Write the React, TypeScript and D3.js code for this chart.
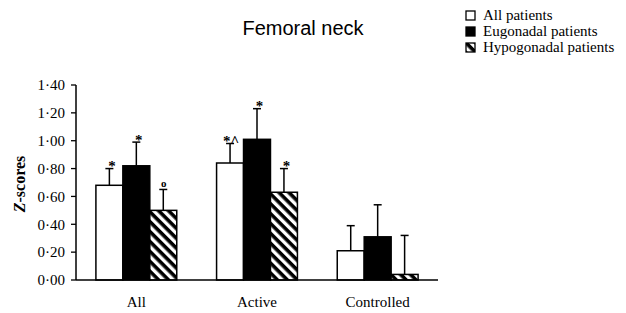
import { useEffect, useRef } from 'react';
import * as d3 from 'd3';

const groups = ['All', 'Active', 'Controlled'];
const seriesNames = ['All patients', 'Eugonadal patients', 'Hypogonadal patients'];
// mean Z-scores per group, one value per series
const allMeans = [0.68, 0.82, 0.5];
const activeMeans = [0.84, 1.01, 0.63];
const controlledMeans = [0.21, 0.31, 0.04];
// upward error bars (SEM)
const allErr = [0.12, 0.17, 0.15];
const activeErr = [0.14, 0.22, 0.17];
const controlledErr = [0.18, 0.23, 0.28];
// significance marks
const allMarks = ['*', '*', 'o'];
const activeMarks = ['*^', '*', '*'];
const controlledMarks = ['', '', ''];
const yTicks = [0, 0.2, 0.4, 0.6, 0.8, 1.0, 1.2, 1.4];

const SERIF = '"Liberation Serif", "Times New Roman", serif';
const SANS = '"Liberation Sans", Arial, sans-serif';

const App = () => {
  const ref = useRef<SVGSVGElement>(null);

  useEffect(() => {
    if (!ref.current) return;
    const svg = d3.select(ref.current);
    svg.selectAll('*').remove();

    const width = 626;
    const height = 313;
    const left = 76;
    const right = 438;
    const top = 85;
    const bottom = 280;

    const means = [allMeans, activeMeans, controlledMeans];
    const errs = [allErr, activeErr, controlledErr];
    const marks = [allMarks, activeMarks, controlledMarks];

    const x0 = d3.scaleBand<string>()
      .domain(groups)
      .range([left, right])
      .paddingInner(0.33)
      .paddingOuter(0.165);

    const x1 = d3.scaleBand<string>()
      .domain(seriesNames)
      .range([0, x0.bandwidth()]);

    const y = d3.scaleLinear().domain([0, 1.4]).range([bottom, top]);

    svg.attr('width', width).attr('height', height);

    const defs = svg.append('defs');
    const pat = defs.append('pattern')
      .attr('id', 'hatch')
      .attr('patternUnits', 'userSpaceOnUse')
      .attr('width', 7)
      .attr('height', 7)
      .attr('patternTransform', 'rotate(45)');
    pat.append('rect').attr('width', 7).attr('height', 7).attr('fill', '#fff');
    pat.append('rect').attr('width', 7).attr('height', 3.6).attr('fill', '#000');

    const fills = ['#fff', '#000', 'url(#hatch)'];

    // title
    svg.append('text')
      .attr('x', 303)
      .attr('y', 35)
      .attr('text-anchor', 'middle')
      .style('font-family', SANS)
      .style('font-size', '20px')
      .text('Femoral neck');

    // legend
    const leg = svg.append('g');
    seriesNames.forEach((name, i) => {
      const by = 20 + i * 16;
      leg.append('rect')
        .attr('x', 466)
        .attr('y', by - 9)
        .attr('width', 9)
        .attr('height', 9)
        .attr('fill', fills[i])
        .attr('stroke', '#000')
        .attr('stroke-width', 1.3);
      leg.append('text')
        .attr('x', 483)
        .attr('y', by)
        .style('font-family', SERIF)
        .style('font-size', '15px')
        .text(name);
    });

    // bars
    groups.forEach((g, gi) => {
      const gx = x0(g)!;
      seriesNames.forEach((s, si) => {
        const bx = gx + x1(s)!;
        const bw = x1.bandwidth();
        const v = means[gi][si];
        const cx = bx + bw / 2;
        const capY = y(v + errs[gi][si]);

        // error bar
        svg.append('line')
          .attr('x1', cx).attr('x2', cx)
          .attr('y1', y(v)).attr('y2', capY)
          .attr('stroke', '#000').attr('stroke-width', 1.5);
        svg.append('line')
          .attr('x1', cx - 4).attr('x2', cx + 4)
          .attr('y1', capY).attr('y2', capY)
          .attr('stroke', '#000').attr('stroke-width', 1.5);

        svg.append('rect')
          .attr('x', bx)
          .attr('y', y(v))
          .attr('width', bw)
          .attr('height', bottom - y(v))
          .attr('fill', fills[si])
          .attr('stroke', '#000')
          .attr('stroke-width', 1.5);

        const m = marks[gi][si];
        if (m) {
          const isCircle = m === 'o';
          svg.append('text')
            .attr('x', cx + (m.length > 1 ? 1 : isCircle ? 0.5 : 2.5))
            .attr('y', isCircle ? capY - 2 : capY + 2.5)
            .attr('text-anchor', 'middle')
            .style('font-family', SERIF)
            .style('font-weight', 'bold')
            .style('font-size', isCircle ? '11px' : '15px')
            .text(m);
        }
      });
    });

    // axes
    svg.append('line')
      .attr('x1', left).attr('x2', right)
      .attr('y1', bottom).attr('y2', bottom)
      .attr('stroke', '#000').attr('stroke-width', 1.5);
    svg.append('line')
      .attr('x1', left).attr('x2', left)
      .attr('y1', top).attr('y2', bottom)
      .attr('stroke', '#000').attr('stroke-width', 1.5);

    yTicks.forEach((t) => {
      svg.append('line')
        .attr('x1', left - 5).attr('x2', left)
        .attr('y1', y(t)).attr('y2', y(t))
        .attr('stroke', '#000').attr('stroke-width', 1.3);
      svg.append('text')
        .attr('x', left - 11)
        .attr('y', y(t))
        .attr('dy', '0.35em')
        .attr('text-anchor', 'end')
        .style('font-family', SERIF)
        .style('font-size', '15px')
        .text(d3.format('.2f')(t).replace('.', '·'));
    });

    groups.forEach((g) => {
      svg.append('text')
        .attr('x', x0(g)! + x0.bandwidth() / 2)
        .attr('y', 307)
        .attr('text-anchor', 'middle')
        .style('font-family', SERIF)
        .style('font-size', '15px')
        .text(g);
    });

    // y label
    const yl = svg.append('text')
      .attr('transform', 'translate(25,184) rotate(-90)')
      .attr('text-anchor', 'middle')
      .style('font-family', SERIF)
      .style('font-weight', 'bold')
      .style('font-size', '16px');
    yl.append('tspan').style('font-style', 'italic').text('Z');
    yl.append('tspan').text('-scores');
  }, []);

  return (
    <svg ref={ref} style={{ position: 'absolute', left: 0, top: 0, background: '#fff' }} />
  );
};

export default App;
